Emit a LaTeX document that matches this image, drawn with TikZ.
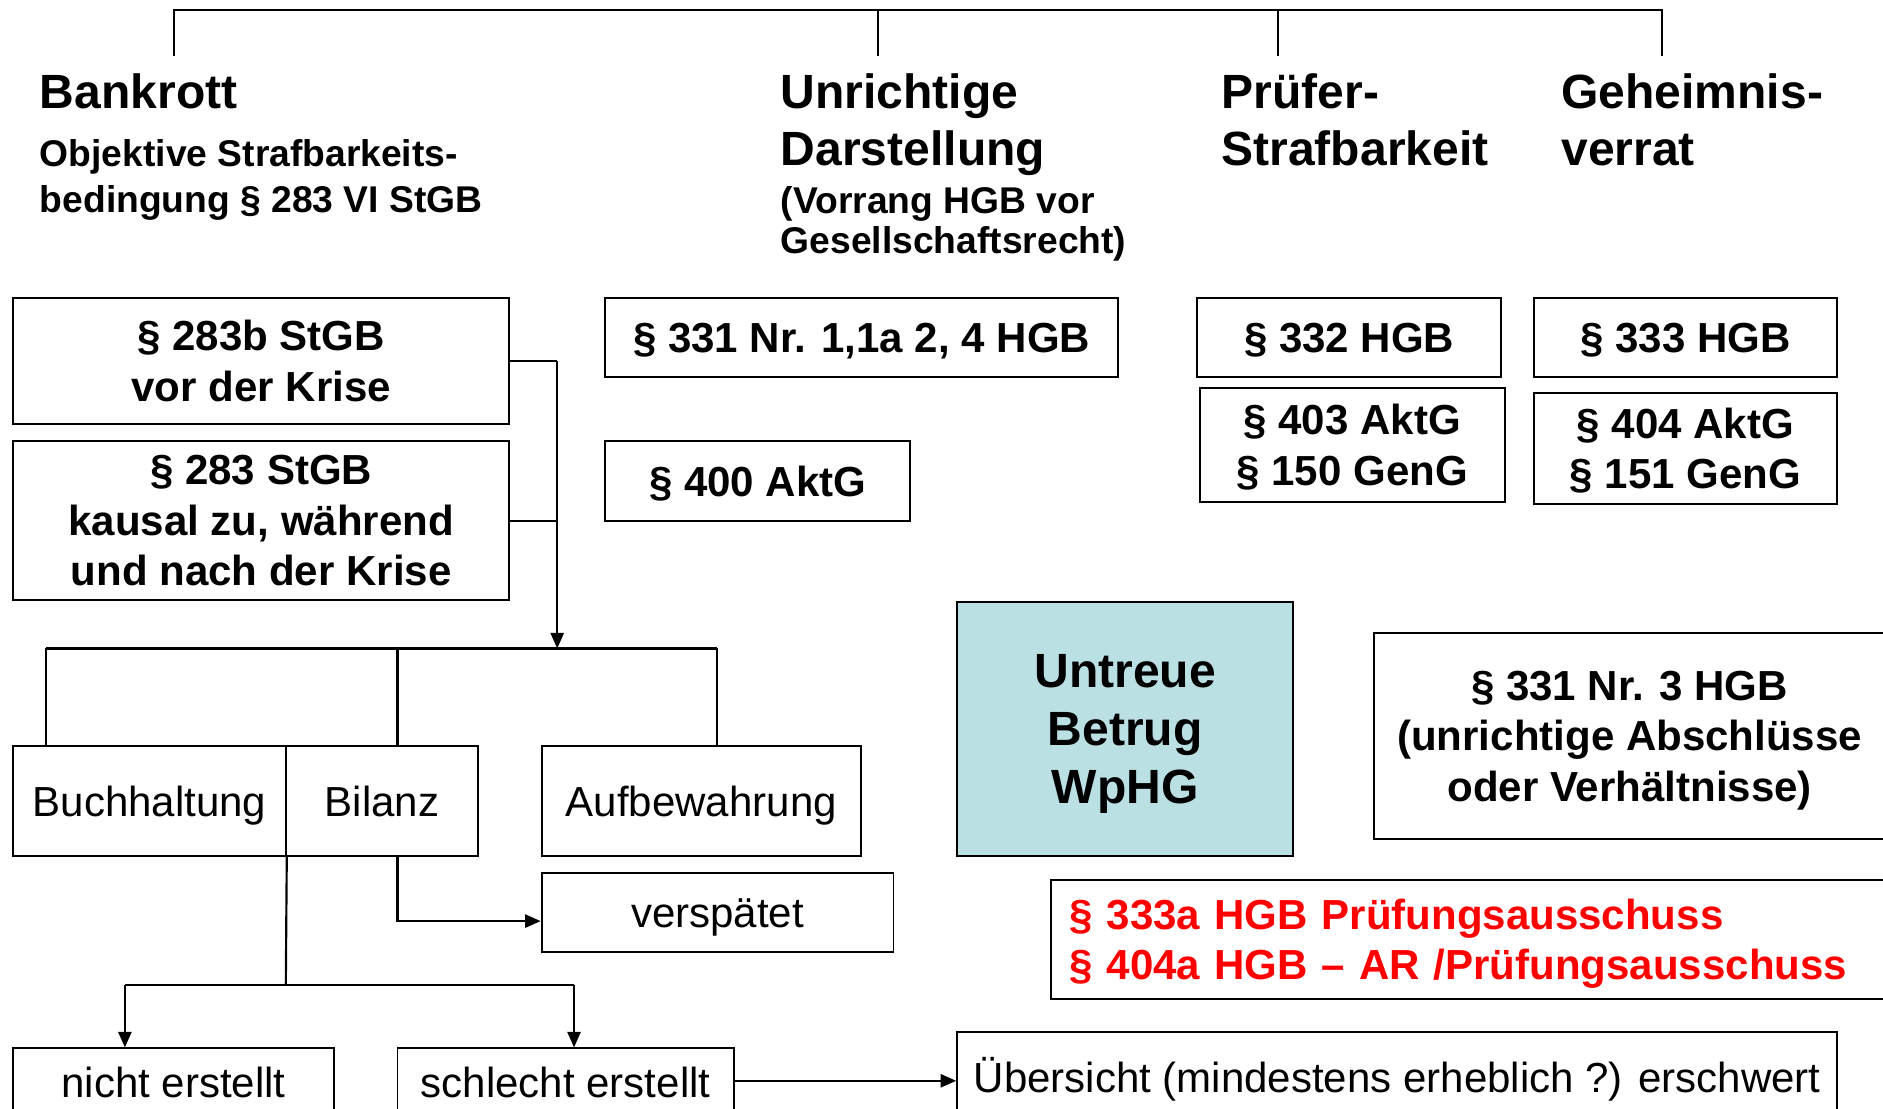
\documentclass[tikz,border=0pt]{standalone}
\usepackage{fontspec}
\setmainfont{Liberation Sans}
\usetikzlibrary{arrows.meta}
\definecolor{cyanfill}{HTML}{BAE0E4}
\begin{document}
\begin{tikzpicture}[x=1pt,y=-1pt,
  box/.style={draw=black, line width=1.6pt, inner sep=0pt, align=center, text depth=0pt},
  bigb/.style={font=\fontsize{40}{48}\selectfont\bfseries},
  midb/.style={font=\fontsize{35}{42}\selectfont\bfseries},
  subb/.style={font=\fontsize{31}{38}\selectfont\bfseries},
  reg/.style={font=\fontsize{35}{42}\selectfont},
  conn/.style={line width=1.8pt},
  arr/.style={conn, -{Triangle[length=13pt,width=11pt]}},
  hd/.style={anchor=base west, inner sep=0pt},
]
\useasboundingbox (0,0) rectangle (1568,923);

% headers
\node[hd,bigb] (hBank) at (33,90) {Bankrott};
\node[hd,subb] (hObj1) at (33,139) {Objektive Strafbarkeits-};
\node[hd,subb] (hObj2) at (33,177) {bedingung § 283 VI StGB};
\node[hd,bigb] (hUnr1) at (650,90) {Unrichtige};
\node[hd,bigb] (hUnr2) at (650,138) {Darstellung};
\node[hd,subb] (hUnr3) at (650,178) {(Vorrang HGB vor};
\node[hd,subb] (hUnr4) at (650,211) {Gesellschaftsrecht)};
\node[hd,bigb] (hPr1) at (1017,90) {Prüfer-};
\node[hd,bigb] (hPr2) at (1017,138) {Strafbarkeit};
\node[hd,bigb] (hGe1) at (1300,90) {Geheimnis-};
\node[hd,bigb] (hGe2) at (1300,138) {verrat};

% top bracket
\coordinate (t1) at (145,8);
\coordinate (t2) at (731,8);
\coordinate (t3) at (1064,8);
\coordinate (t4) at (1384,8);
\coordinate (t1e) at (145,47);
\coordinate (t2e) at (731,47);
\coordinate (t3e) at (1064,47);
\coordinate (t4e) at (1384,47);
\draw[conn] (t1e) -- (t1) -- (t4) -- (t4e);
\draw[conn] (t2) -- (t2e);
\draw[conn] (t3) -- (t3e);

% Bankrott column
\node[box,midb,minimum width=413,minimum height=105] (b1) at (217.5,300.5) {§ 283b StGB\\vor der Krise};
\node[box,midb,minimum width=413,minimum height=133] (b2) at (217.5,433.5) {§ 283 StGB\\kausal zu, während\\und nach der Krise};

\coordinate (j1) at (464,300.5);
\coordinate (bar) at (464,540);
\draw[conn] (b1.east) -- (j1);
\draw[conn] (b2.east) -- (b2.east -| j1);
\draw[arr] (j1) -- (bar);

\node[box,reg,minimum width=227,minimum height=92] (buch) at (124.5,667) {Buchhaltung};
\node[box,reg,minimum width=160,minimum height=92] (bil) at (318,667) {Bilanz};
\node[box,reg,minimum width=266,minimum height=92] (auf) at (584,667) {Aufbewahrung};
\node[box,reg,minimum width=293,minimum height=66] (versp) at (597.5,760) {verspätet};

\coordinate (bL) at (38,540);
\coordinate (bM) at (331,540);
\coordinate (bR) at (597,540);
\draw[conn] (bL) -- (bR);
\draw[conn] (bL) -- (bL |- buch.north);
\draw[conn] (bM) -- (bM |- bil.north);
\draw[conn] (bR) -- (bR |- auf.north);

\coordinate (bz) at (331,713);
\draw[arr] (bz) |- ([yshift=-7pt]versp.west);

\node[box,reg,minimum width=267,minimum height=56] (nicht) at (144.5,901) {nicht erstellt};
\node[box,reg,minimum width=280,minimum height=56] (schl) at (471,901) {schlecht erstellt};
\node[box,reg,minimum width=733,minimum height=72] (ueb) at (1163.5,895) {Übersicht (mindestens erheblich ?) erschwert};

\coordinate (bj) at (238,820);
\coordinate (cL) at (104,820);
\coordinate (cR) at (478,820);
\draw[conn] (buch.south east) -- (bj);
\draw[conn] (cL) -- (cR);
\draw[arr] (cL) -- (cL |- nicht.north);
\draw[arr] (cR) -- (cR |- schl.north);
\draw[arr] ([yshift=1pt]schl.east) -- ([yshift=-5pt]ueb.west);

% other columns
\node[box,midb,minimum width=427,minimum height=66] (p331) at (717.5,281) {§ 331 Nr. 1,1a 2, 4 HGB};
\node[box,midb,minimum width=254,minimum height=67] (p400) at (631,400.5) {§ 400 AktG};
\node[box,midb,minimum width=253,minimum height=66] (p332) at (1123.5,281) {§ 332 HGB};
\node[box,midb,minimum width=254,minimum height=95] (p403) at (1126,370.5) {§ 403 AktG\\§ 150 GenG};
\node[box,midb,minimum width=253,minimum height=66] (p333) at (1403.5,281) {§ 333 HGB};
\node[box,midb,minimum width=253,minimum height=93] (p404) at (1403.5,373.5) {§ 404 AktG\\§ 151 GenG};

\node[box,bigb,fill=cyanfill,minimum width=280,minimum height=212] (untr) at (937,607) {Untreue\\Betrug\\WpHG};
\node[box,midb,minimum width=426,minimum height=172] (p331b) at (1357,613) {§ 331 Nr. 3 HGB\\(unrichtige Abschlüsse\\oder Verhältnisse)};
\node[box,midb,text=red,align=left,text width=665,inner xsep=15pt,text height=25pt,text depth=42pt,minimum height=99] (red) at (1223,782.5) {§ 333a HGB Prüfungsausschuss\\§ 404a HGB – AR /Prüfungsausschuss};
\end{tikzpicture}
\end{document}
